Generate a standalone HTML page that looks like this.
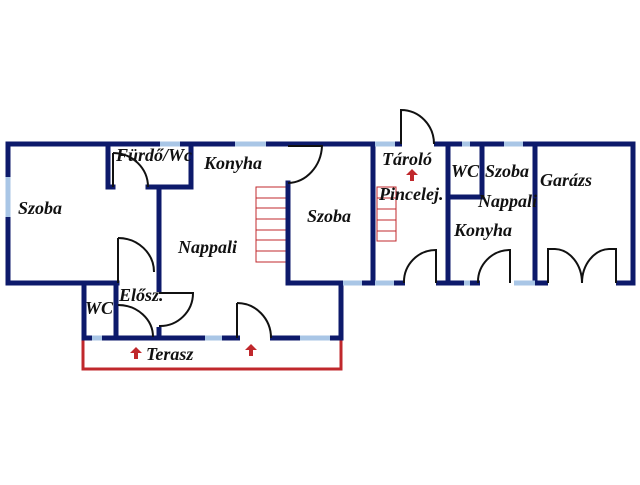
<!DOCTYPE html>
<html><head><style>
html,body{margin:0;padding:0;background:#fff;}
svg text{font-family:"Liberation Serif",serif;font-style:italic;font-weight:bold;font-size:18px;fill:#111;}
</style></head><body>
<svg width="640" height="480" viewBox="0 0 640 480" xmlns="http://www.w3.org/2000/svg">
<rect width="640" height="480" fill="#fff"/>
<path d="M83 338 V369 H341 V338" fill="none" stroke="#c0282c" stroke-width="3"/>
<g stroke="#c0282c" stroke-width="1" fill="none">
<rect x="256" y="187" width="31" height="75"/>
<line x1="256" y1="198" x2="287" y2="198"/><line x1="256" y1="208" x2="287" y2="208"/>
<line x1="256" y1="219" x2="287" y2="219"/><line x1="256" y1="230" x2="287" y2="230"/>
<line x1="256" y1="240" x2="287" y2="240"/><line x1="256" y1="251" x2="287" y2="251"/>
<rect x="377" y="187" width="19" height="54"/>
<line x1="377" y1="198" x2="396" y2="198"/><line x1="377" y1="209" x2="396" y2="209"/>
<line x1="377" y1="220" x2="396" y2="220"/><line x1="377" y1="231" x2="396" y2="231"/>
</g>
<g stroke="#0d1a6b" stroke-width="5" fill="none" stroke-linecap="square">
<line x1="8" y1="144" x2="633" y2="144"/>
<line x1="8" y1="144" x2="8" y2="283"/>
<line x1="8" y1="283" x2="117" y2="283"/>
<line x1="84" y1="283" x2="84" y2="338"/>
<line x1="116" y1="283" x2="116" y2="338"/>
<line x1="84" y1="338" x2="155" y2="338"/>
<line x1="159" y1="338" x2="341" y2="338"/>
<line x1="341" y1="283" x2="341" y2="338"/>
<line x1="108" y1="144" x2="108" y2="187"/>
<line x1="108" y1="187" x2="113" y2="187"/>
<line x1="148" y1="187" x2="191" y2="187"/>
<line x1="191" y1="144" x2="191" y2="187"/>
<line x1="159" y1="187" x2="159" y2="292"/>
<line x1="159" y1="327" x2="159" y2="338"/>
<line x1="288" y1="183" x2="288" y2="283"/>
<line x1="288" y1="283" x2="633" y2="283"/>
<line x1="373" y1="144" x2="373" y2="283"/>
<line x1="448" y1="144" x2="448" y2="283"/>
<line x1="482" y1="144" x2="482" y2="197"/>
<line x1="448" y1="197" x2="482" y2="197"/>
<line x1="535" y1="144" x2="535" y2="283"/>
<line x1="633" y1="144" x2="633" y2="283"/>
</g>
<g stroke="#fff" stroke-width="7">
<line x1="402" y1="144" x2="434" y2="144"/>
<line x1="405" y1="283" x2="436" y2="283"/>
<line x1="480" y1="283" x2="515" y2="283"/>
<line x1="548" y1="283" x2="616" y2="283"/>
<line x1="240" y1="338" x2="270" y2="338"/>
<line x1="119" y1="238" x2="119" y2="272"/>
<line x1="159" y1="292" x2="159" y2="327"/>
</g>
<g stroke="#a9c6e6" stroke-width="5">
<line x1="160" y1="144" x2="180" y2="144"/>
<line x1="235" y1="144" x2="266" y2="144"/>
<line x1="375" y1="144" x2="395" y2="144"/>
<line x1="462" y1="144" x2="470" y2="144"/>
<line x1="504" y1="144" x2="523" y2="144"/>
<line x1="8" y1="177" x2="8" y2="217"/>
<line x1="92" y1="338" x2="102" y2="338"/>
<line x1="205" y1="338" x2="222" y2="338"/>
<line x1="300" y1="338" x2="330" y2="338"/>
<line x1="343" y1="283" x2="362" y2="283"/>
<line x1="375" y1="283" x2="394" y2="283"/>
<line x1="464" y1="283" x2="470" y2="283"/>
<line x1="514" y1="283" x2="535" y2="283"/>
</g>
<g stroke="#111" stroke-width="2" fill="none">
<path d="M113 153 V187"/><path d="M113 153 A35 34 0 0 1 148 187"/>
<path d="M118 238 V283"/><path d="M118 238 A36 34 0 0 1 154 272"/>
<path d="M159 293 H193 A33 33 0 0 1 159 326"/>
<path d="M118 305 A35 32 0 0 1 153 337"/>
<path d="M237 303 V338"/><path d="M237 303 A34 35 0 0 1 271 338"/>
<path d="M288 183 A35 39 0 0 0 322 146 H288"/>
<path d="M401 144 V110 A33 34 0 0 1 434 144"/>
<path d="M404 283 A32 32 0 0 1 436 250 V283"/>
<path d="M478 283 A32 32 0 0 1 510 250 V283"/>
<path d="M548 283 V249 H555 A28 34 0 0 1 582 283"/>
<path d="M616 283 V249 H609 A28 34 0 0 0 582 283"/>
</g>
<g fill="#c0282c">
<path d="M412 169 l-6 6 h4 v6 h4 v-6 h4 z"/>
<path d="M136 347 l-6 6 h4 v6 h4 v-6 h4 z"/>
<path d="M251 344 l-6 6 h4 v6 h4 v-6 h4 z"/>
</g>
<text x="116" y="161">Fürdő/Wc</text>
<text x="204" y="169">Konyha</text>
<text x="18" y="214">Szoba</text>
<text x="178" y="253">Nappali</text>
<text x="307" y="222">Szoba</text>
<text x="119" y="301">Elősz.</text>
<text x="85" y="314">WC</text>
<text x="146" y="360">Terasz</text>
<text x="382" y="165">Tároló</text>
<text x="379" y="200">Pincelej.</text>
<text x="451" y="177">WC</text>
<text x="485" y="177">Szoba</text>
<text x="540" y="186">Garázs</text>
<text x="478" y="207">Nappali</text>
<text x="454" y="236">Konyha</text>
</svg>
</body></html>
